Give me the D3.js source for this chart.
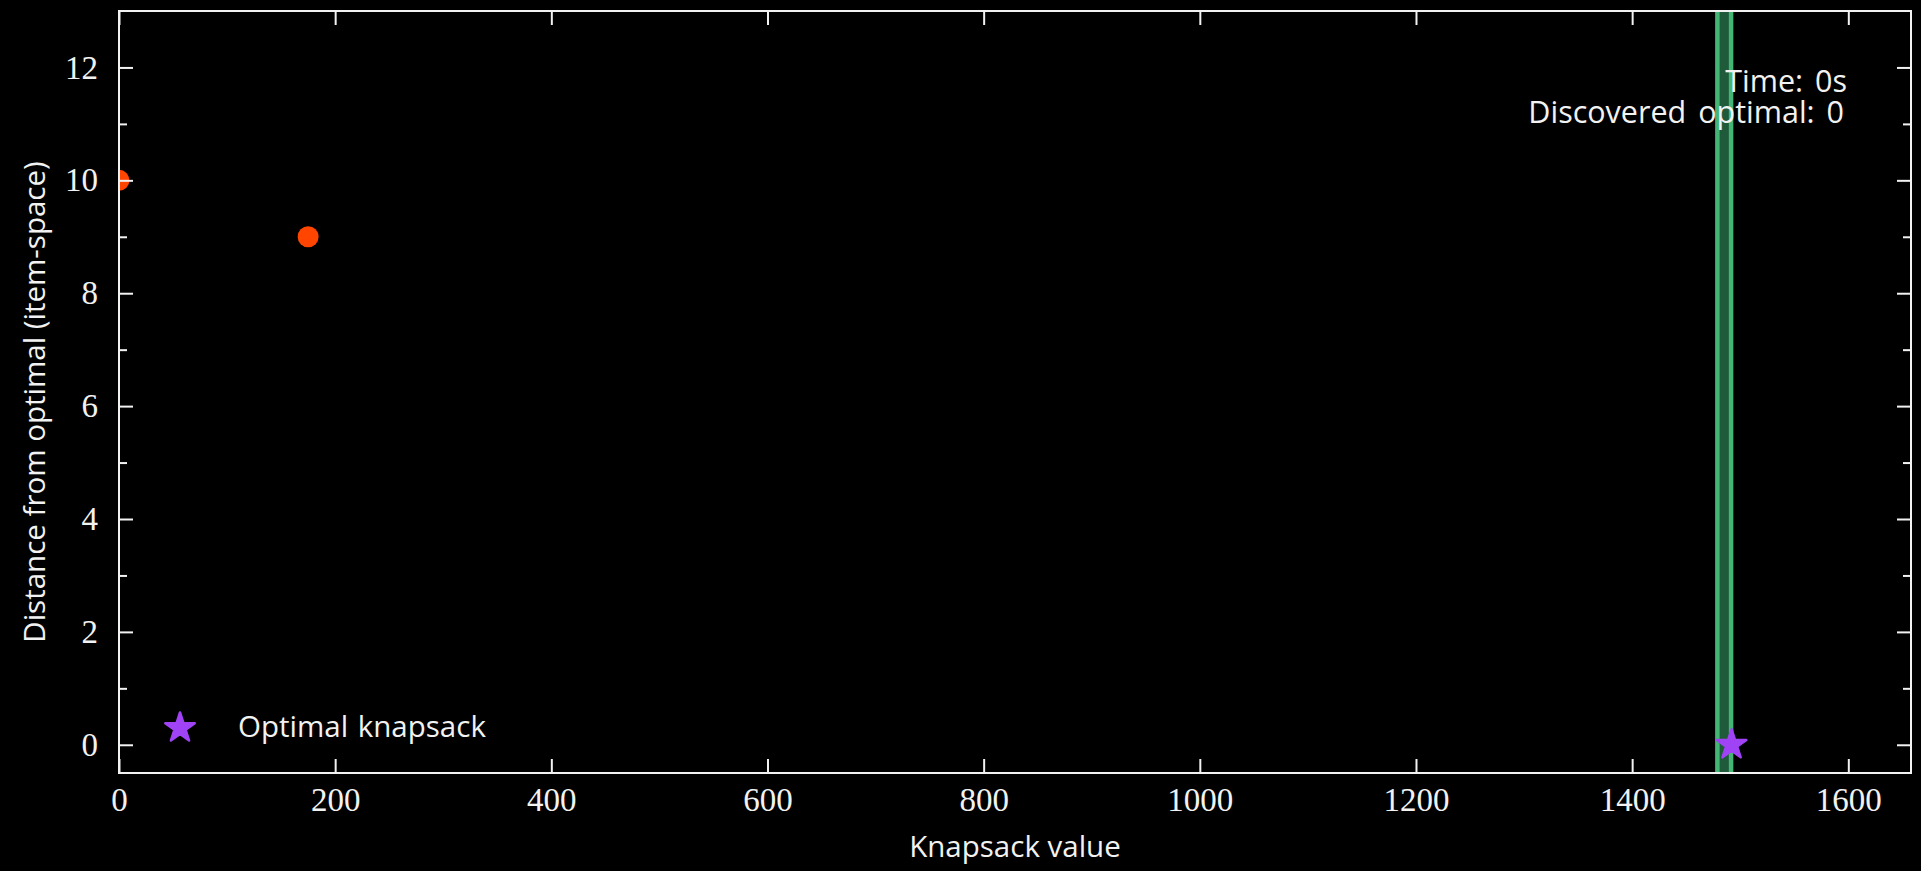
<!DOCTYPE html>
<html>
<head>
<meta charset="utf-8">
<script src="https://cdn.jsdelivr.net/npm/d3@7"></script>
<style>
  html, body { margin: 0; padding: 0; background: #000; }
  svg { display: block; }
</style>
</head>
<body>
<svg id="chart" width="1921" height="871"></svg>
<script>
// ---- data ----
const pointX = [0, 175];
const pointY = [10, 9];
const optimalX = [1492];
const optimalY = [0];
const bandRange = [1477, 1492];
const xTicks = [0, 200, 400, 600, 800, 1000, 1200, 1400, 1600];
const yTicks = [0, 2, 4, 6, 8, 10, 12];
const yMinorTicks = [1, 3, 5, 7, 9, 11];
const xDomain = [0, 1658];
const yDomain = [-0.5, 13];
const infoLines = ["Time: 0s", "Discovered optimal: 0"];
const legendLabel = "Optimal knapsack";
const xLabel = "Knapsack value";
const yLabel = "Distance from optimal (item-space)";

// ---- layout ----
const W = 1921, H = 871;
const m = { left: 119, right: 10, top: 11, bottom: 98 };
const pw = W - m.left - m.right, ph = H - m.top - m.bottom;
const fg = "#f2f2f2";
const sansFont = "'Open Sans', Lato, sans-serif";
const sansSize = 29.5;
const serifFont = "'Liberation Serif', serif";

const svg = d3.select("#chart");
svg.append("rect").attr("width", W).attr("height", H).attr("fill", "#000");

const x = d3.scaleLinear().domain(xDomain).range([0, pw]);
const y = d3.scaleLinear().domain(yDomain).range([ph, 0]);

const g = svg.append("g").attr("transform", `translate(${m.left},${m.top})`);

g.append("clipPath").attr("id", "clip")
  .append("rect").attr("width", pw).attr("height", ph);

const plot = g.append("g").attr("clip-path", "url(#clip)");

// band
const bw = x(bandRange[1]) - x(bandRange[0]);
plot.append("rect")
  .attr("x", x(bandRange[0]) + 2)
  .attr("width", bw - 4 + 1.5)
  .attr("y", -5).attr("height", ph + 10)
  .attr("fill", "#1f5a3a")
  .attr("stroke", "#43b574")
  .attr("stroke-width", 4.5);

// points
plot.selectAll("circle.pt").data(pointX).join("circle")
  .attr("class", "pt")
  .attr("cx", d => x(d))
  .attr("cy", (d, i) => y(pointY[i]))
  .attr("r", 10.5)
  .attr("fill", "#ff4500");

// optimal star
const star = d3.symbol().type(d3.symbolStar).size(270);
plot.selectAll("path.opt").data(optimalX).join("path")
  .attr("class", "opt")
  .attr("transform", (d, i) => `translate(${x(d)},${y(optimalY[i])})`)
  .attr("d", star)
  .attr("fill", "#a043f5")
  .attr("stroke", "#a043f5")
  .attr("stroke-width", 2.5)
  .attr("stroke-linejoin", "round");

// axes
const tickLen = 14, minorLen = 8;
const fmt = d3.format("d");
const axB = d3.axisBottom(x).tickValues(xTicks).tickFormat(fmt).tickSizeInner(-tickLen).tickSizeOuter(0).tickPadding(15);
const axT = d3.axisTop(x).tickValues(xTicks).tickSizeInner(-tickLen).tickSizeOuter(0).tickFormat("");
const axL = d3.axisLeft(y).tickValues(yTicks).tickFormat(fmt).tickSizeInner(-tickLen).tickSizeOuter(0).tickPadding(21);
const axR = d3.axisRight(y).tickValues(yTicks).tickSizeInner(-tickLen).tickSizeOuter(0).tickFormat("");
const axLm = d3.axisLeft(y).tickValues(yMinorTicks).tickSizeInner(-minorLen).tickSizeOuter(0).tickFormat("");
const axRm = d3.axisRight(y).tickValues(yMinorTicks).tickSizeInner(-minorLen).tickSizeOuter(0).tickFormat("");

function style(sel) {
  sel.select(".domain").remove();
  sel.selectAll("line").attr("stroke", fg).attr("stroke-width", 2);
  sel.selectAll("text").attr("fill", fg).attr("font-family", serifFont).attr("font-size", 33);
}
g.append("g").attr("transform", `translate(0,${ph})`).call(axB).call(style);
g.append("g").call(axT).call(style);
g.append("g").call(axL).call(style);
g.append("g").attr("transform", `translate(${pw},0)`).call(axR).call(style);
g.append("g").call(axLm).call(style);
g.append("g").attr("transform", `translate(${pw},0)`).call(axRm).call(style);

// frame
g.append("rect").attr("width", pw).attr("height", ph)
  .attr("fill", "none").attr("stroke", fg).attr("stroke-width", 2);

// axis labels
svg.append("text")
  .attr("x", m.left + pw / 2).attr("y", 857)
  .attr("text-anchor", "middle")
  .attr("fill", fg).attr("font-family", sansFont).attr("font-size", sansSize)
  .text(xLabel);

svg.append("text")
  .attr("transform", `translate(45,${m.top + ph / 2 + 10}) rotate(-90)`)
  .attr("text-anchor", "middle")
  .attr("fill", fg).attr("font-family", sansFont).attr("font-size", sansSize)
  .text(yLabel);

// info text
svg.selectAll("text.info").data(infoLines).join("text")
  .attr("class", "info")
  .attr("x", (d, i) => i === 0 ? 1847 : 1844)
  .attr("y", (d, i) => 92 + i * 31)
  .attr("text-anchor", "end")
  .attr("fill", fg).attr("font-family", sansFont).attr("font-size", 30.5)
  .attr("word-spacing", 4)
  .text(d => d);

// legend
const leg = svg.append("g");
leg.append("path")
  .attr("transform", "translate(180,728)")
  .attr("d", star)
  .attr("fill", "#a043f5")
  .attr("stroke", "#a043f5")
  .attr("stroke-width", 2.5)
  .attr("stroke-linejoin", "round");
leg.append("text")
  .attr("x", 238).attr("y", 737)
  .attr("fill", fg).attr("font-family", sansFont).attr("font-size", sansSize)
  .attr("word-spacing", 2)
  .text(legendLabel);
</script>
</body>
</html>
